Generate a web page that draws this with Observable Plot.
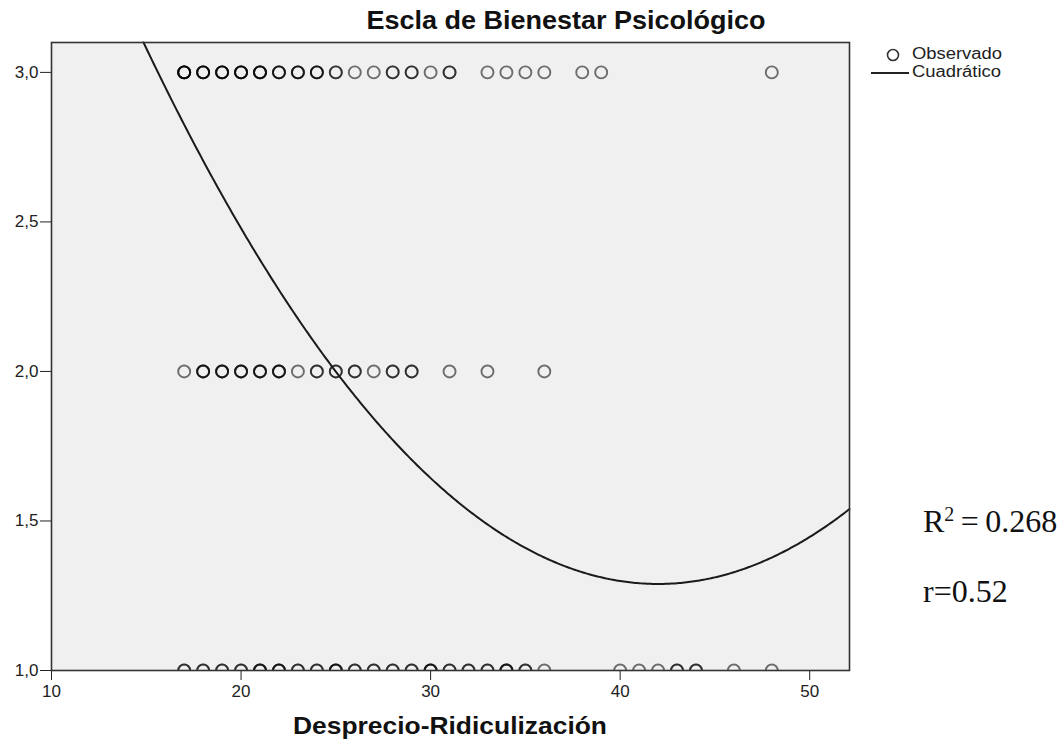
<!DOCTYPE html>
<html><head><meta charset="utf-8">
<script src="https://cdn.jsdelivr.net/npm/d3@7"></script>
<script src="https://cdn.jsdelivr.net/npm/@observablehq/plot@0.6"></script>
<style>
body{margin:0;background:#fff;}
#wrap{position:relative;width:1060px;height:745px;font-family:"Liberation Sans",Arial,sans-serif;color:#111;}
#wrap svg{position:absolute;left:0;top:0;}
.abs{position:absolute;white-space:nowrap;}
#title{left:566px;top:6px;transform:translateX(-50%) scaleX(1.08);font-weight:bold;font-size:25px;}
#xlabel{left:450px;top:712px;transform:translateX(-50%) scaleX(1.1);font-weight:bold;font-size:24px;}
.leg{font-size:16px;left:912px;transform-origin:left center;transform:scaleX(1.15);color:#222;}
.stat{font-family:"Liberation Serif","Times New Roman",serif;font-size:32px;left:923px;color:#111;}
.stat sup{font-size:20px;vertical-align:0;position:relative;top:-11px;}
</style></head>
<body>
<div id="wrap">
  <div id="chart"></div>
  <div class="abs" id="title">Escla de Bienestar Psicológico</div>
  <div class="abs" id="xlabel">Desprecio-Ridiculización</div>
  <svg width="60" height="90" style="left:865px;top:40px;position:absolute" id="legsvg"></svg>
  <div class="abs leg" style="top:45px">Observado</div>
  <div class="abs leg" style="top:63px">Cuadrático</div>
  <div class="abs stat" style="top:503px">R<sup>2</sup>&#8201;=&#8201;0.268</div>
  <div class="abs stat" style="top:573px">r=0.52</div>
</div>
<script>
// Observed values: x positions and number of overlapping cases per row
const row3X = [17,18,19,20,21,22,23,24,25,26,27,28,29,30,31,33,34,35,36,38,39,48];
const row3N = [5,4,4,4,4,3,3,3,2,1,1,2,2,1,2,1,1,1,1,1,1,1];
const row2X = [17,18,19,20,21,22,23,24,25,26,27,28,29,31,33,36];
const row2N = [1,3,3,3,3,3,1,2,2,2,1,2,2,1,1,1];
const row1X = [17,18,19,20,21,22,23,24,25,26,27,28,29,30,31,32,33,34,35,36,40,41,42,43,44,46,48];
const row1N = [2,2,2,2,3,3,2,2,3,2,2,2,2,3,2,2,2,3,2,1,1,1,1,2,2,1,1];
// Quadratic fit coefficients (y = a + b x + c x^2)
const quadA = 5.624, quadB = -0.2064, quadC = 0.002457;
const xTicks = [10,20,30,40,50];
const yTicks = [1.0,1.5,2.0,2.5,3.0];
const xDomain = [10, 52.1];
const yDomain = [1.0, 3.1];

function expand(xs, ns, y) {
  const out = [];
  xs.forEach((x,i) => { for (let k=0;k<ns[i];k++) out.push({x, y}); });
  return out;
}
const obsUpper = [...expand(row3X,row3N,3), ...expand(row2X,row2N,2)];
const obsLower = expand(row1X,row1N,1);

// curve kept inside the frame: start where it meets the top of the y domain
const cTop = quadA - yDomain[1];
const xStart = Math.max(xDomain[0], (-quadB - Math.sqrt(quadB*quadB - 4*quadC*cTop)) / (2*quadC));
const fy = x => quadA + quadB*x + quadC*x*x;
const curve = [{x: xStart, y: fy(xStart)}, ...d3.range(Math.ceil(xStart*10)/10, xDomain[1] + 0.001, 0.1).map(x => ({x, y: fy(x)}))];

// points on the bottom edge are cut by the frame: draw their upper half only
const upperHalf = {draw(context, size) {
  const r = Math.sqrt(size / Math.PI);
  context.moveTo(r, 0);
  context.arc(0, 0, r, 0, Math.PI, true);
}};

const M = {left: 51, right: 211, top: 42, bottom: 75};
const dotStyle = {x: "x", y: "y", r: 6, stroke: "#000", strokeOpacity: 0.55, strokeWidth: 1.9, fill: "none"};
const chart = Plot.plot({
  width: 1060, height: 745,
  marginLeft: M.left, marginRight: M.right, marginTop: M.top, marginBottom: M.bottom,
  style: {fontSize: "17px", fontFamily: "'Liberation Sans', Arial, sans-serif", color: "#222", background: "transparent", overflow: "visible"},
  x: {domain: xDomain, ticks: xTicks, tickSize: 10, tickPadding: 4, label: null, tickFormat: d => String(d)},
  y: {domain: yDomain, ticks: yTicks, tickSize: 11, tickPadding: 2, label: null, tickFormat: d => d.toFixed(1).replace(".", ",")},
  marks: [
    Plot.frame({fill: "#f0f0f0", stroke: null}),
    Plot.dot(obsUpper, dotStyle),
    Plot.dot(obsLower, {...dotStyle, symbol: upperHalf}),
    Plot.line(curve, {x: "x", y: "y", stroke: "#1a1a1a", strokeWidth: 2}),
    Plot.frame({stroke: "#333", strokeWidth: 1.6})
  ]
});
document.getElementById("chart").appendChild(chart);

const leg = d3.select("#legsvg");
leg.append("circle").attr("cx", 28).attr("cy", 15).attr("r", 5.5).attr("fill", "none").attr("stroke", "#333").attr("stroke-width", 1.6);
leg.append("line").attr("x1", 6).attr("x2", 44).attr("y1", 33).attr("y2", 33).attr("stroke", "#222").attr("stroke-width", 2);
</script>
</body></html>
